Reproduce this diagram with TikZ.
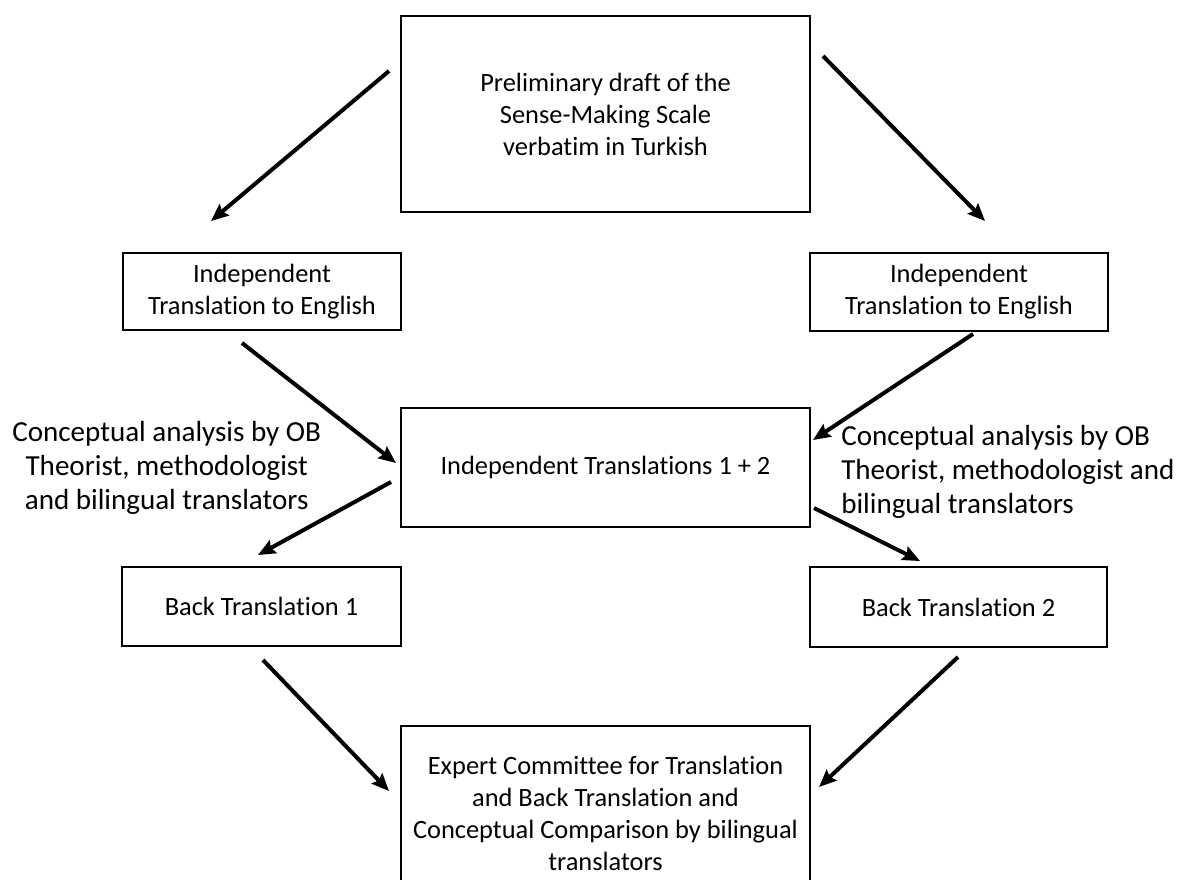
\documentclass[tikz,border=0pt]{standalone}
\usepackage{fontspec}
\setmainfont{Carlito}[Ligatures=NoCommon]
\usetikzlibrary{arrows.meta,positioning}

\begin{document}
\begin{tikzpicture}[x=0.75pt,y=-0.75pt,
    box/.style={draw,line width=1.5pt,inner sep=0pt,align=center,font=\fontsize{19.8}{24}\selectfont},
    arr/.style={line width=3pt,-{Stealth[length=13pt,width=11pt,inset=2pt]}},
    lbl/.style={inner sep=0pt,font=\fontsize{21.8}{25.5}\selectfont}]
    \useasboundingbox (0,0) rectangle (1179,879);
    % boxes
    \node [box,minimum width=306.75pt,minimum height=147pt] (draft) at (605.5,114)
        {Preliminary draft of the\\Sense-Making Scale\\verbatim in Turkish};
    \node [box,minimum width=208.5pt,minimum height=57.75pt] (transL) at (262,291.5)
        {Independent\\Translation to English};
    \node [box,minimum width=223.5pt,minimum height=58.5pt] (transR) at (959,292)
        {Independent\\Translation to English};
    \node [box,minimum width=306.75pt,minimum height=89.25pt] (merged) at (605.5,467.5)
        {Independent Translations 1 + 2};
    \node [box,minimum width=209.25pt,minimum height=59.25pt] (backL) at (261.5,606.5)
        {Back Translation 1};
    \node [box,minimum width=222.75pt,minimum height=60pt] (backR) at (958.5,607)
        {Back Translation 2};
    \node [box,minimum width=306.75pt,minimum height=130.5pt] (expert) at (605.5,813)
        {Expert Committee for Translation\\and Back Translation and\\Conceptual Comparison by bilingual\\translators};
    % side labels
    \node [lbl,align=center,left=59pt of merged] (noteL)
        {Conceptual analysis by OB\\Theorist, methodologist\\and bilingual translators};
    \node [lbl,align=left,right=22.5pt of merged,yshift=-3pt] (noteR)
        {Conceptual analysis by OB\\Theorist, methodologist and\\bilingual translators};
    % arrows
    \draw [arr] ([shift={(-11,56)}]draft.north west) -- ([shift={(-51,-31)}]transL.north);
    \draw [arr] ([shift={(12,41)}]draft.north east) -- ([shift={(26,-31)}]transR.north);
    \draw [arr] ([shift={(-20,12)}]transL.south) -- ([shift={(-4,-4.5)}]merged.west);
    \draw [arr] ([shift={(14,2)}]transR.south) -- ([shift={(2,-27.5)}]merged.east);
    \draw [arr] ([shift={(-9,14.5)}]merged.west) -- ([shift={(-3.5,-11)}]backL.north);
    \draw [arr] ([shift={(3,40.5)}]merged.east) -- ([shift={(-38.5,-5)}]backR.north);
    \draw [arr] ([shift={(1.5,13)}]backL.south) -- ([shift={(-11,66)}]expert.north west);
    \draw [arr] ([shift={(-0.5,9)}]backR.south) -- ([shift={(8,62)}]expert.north east);
\end{tikzpicture}
\end{document}
